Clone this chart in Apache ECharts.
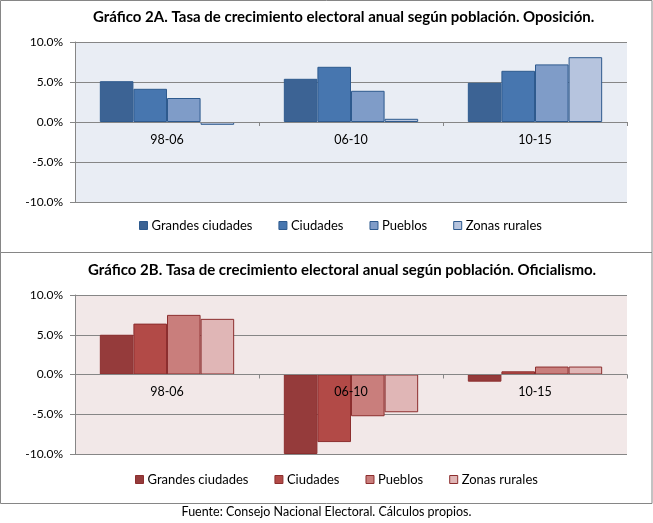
<!DOCTYPE html>
<html>
<head>
<meta charset="utf-8">
<script src="https://cdn.jsdelivr.net/npm/echarts@6/dist/echarts.min.js"></script>
<style>
html,body{margin:0;padding:0;background:#fff;}
#c{width:653px;height:523px;}
</style>
</head>
<body>
<div id="c"></div>
<script>
var categories = ['98-06', '06-10', '10-15'];
var seriesNames = ['Grandes ciudades', 'Ciudades', 'Pueblos', 'Zonas rurales'];
var yTicks = [-10, -5, 0, 5, 10];

// Gráfico 2A (Oposición)
var opGrandes = [5.1, 5.4, 4.9];
var opCiudades = [4.15, 6.9, 6.4];
var opPueblos = [3.0, 3.9, 7.2];
var opRurales = [-0.35, 0.4, 8.1];

// Gráfico 2B (Oficialismo)
var ofGrandes = [5.0, -10.0, -0.9];
var ofCiudades = [6.4, -8.5, 0.4];
var ofPueblos = [7.5, -5.25, 1.0];
var ofRurales = [7.0, -4.75, 1.0];

var titleA = 'Gráfico 2A. Tasa de crecimiento electoral anual según población. Oposición.';
var titleB = 'Gráfico 2B. Tasa de crecimiento electoral anual según población. Oficialismo.';
var footer = 'Fuente: Consejo Nacional Electoral. Cálculos propios.';

var FONT = 'Lato';
var blues = ['#3C6394', '#4776AF', '#7F9CC8', '#B6C4DE'];
var reds = ['#953B3B', '#B24A47', '#C97E7C', '#E0B6B6'];
var blueBorder = '#2E5A8E';
var redBorder = '#8C2E2E';

function makeAxes(gi, zeroOffset) {
  return {
    x: {
      type: 'category', gridIndex: gi, data: categories, position: 'bottom', offset: zeroOffset, z: 10,
      axisLine: {onZero: false, lineStyle: {color: '#868686', width: 1}},
      axisTick: {show: true, length: 4, lineStyle: {color: '#868686'}},
      axisLabel: {color: '#000', fontFamily: FONT, fontSize: 12.5, margin: 11},
      splitLine: {show: false}
    },
    y: {
      type: 'value', gridIndex: gi, min: yTicks[0], max: yTicks[yTicks.length - 1], interval: 5,
      axisLine: {show: true, lineStyle: {color: '#868686', width: 1}},
      axisTick: {show: true, length: 5, lineStyle: {color: '#868686'}},
      axisLabel: {color: '#000', fontFamily: FONT, fontSize: 12, margin: 12,
        formatter: function (v) { return v.toFixed(1) + '%'; }},
      splitLine: {show: true, lineStyle: {color: '#868686', width: 1}}
    }
  };
}
var a0 = makeAxes(0, -80), a1 = makeAxes(1, -79.5);

function mkSeries(name, data, color, border, idx) {
  return {
    type: 'bar', name: name, data: data, xAxisIndex: idx, yAxisIndex: idx,
    barGap: '0%', barCategoryGap: '27%',
    itemStyle: {color: color, borderColor: border, borderWidth: 1},
    emphasis: {disabled: true}
  };
}

var series = [
  mkSeries(seriesNames[0], opGrandes, blues[0], blueBorder, 0),
  mkSeries(seriesNames[1], opCiudades, blues[1], blueBorder, 0),
  mkSeries(seriesNames[2], opPueblos, blues[2], blueBorder, 0),
  mkSeries(seriesNames[3], opRurales, blues[3], blueBorder, 0),
  mkSeries(seriesNames[0] + ' ', ofGrandes, reds[0], redBorder, 1),
  mkSeries(seriesNames[1] + ' ', ofCiudades, reds[1], redBorder, 1),
  mkSeries(seriesNames[2] + ' ', ofPueblos, reds[2], redBorder, 1),
  mkSeries(seriesNames[3] + ' ', ofRurales, reds[3], redBorder, 1)
];

var legendCommon = {
  itemWidth: 8, itemHeight: 8, itemGap: 26, icon: 'rect',
  textStyle: {fontFamily: FONT, fontSize: 13, color: '#000', padding: [0, 0, 0, -1]},
  padding: 0
};

var chart = echarts.init(document.getElementById('c'), null, {renderer: 'canvas'});
chart.setOption({
  animation: false,
  backgroundColor: '#fff',
  title: [
    {text: titleA, left: 93, top: 10, padding: 0, textStyle: {fontFamily: FONT, fontWeight: 'bold', fontSize: 15, color: '#000'}},
    {text: titleB, left: 88, top: 263, padding: 0, textStyle: {fontFamily: FONT, fontWeight: 'bold', fontSize: 15, color: '#000'}}
  ],
  legend: [
    Object.assign({}, legendCommon, {left: 139, top: 219, data: seriesNames.map(function (n) {
      return {name: n, itemStyle: {borderColor: blueBorder, borderWidth: 1}};
    })}),
    Object.assign({}, legendCommon, {left: 135, top: 473, formatter: function (n) { return n.trim(); }, data: seriesNames.map(function (n) {
      return {name: n + ' ', itemStyle: {borderColor: redBorder, borderWidth: 1}};
    })})
  ],
  grid: [
    {left: 75, right: 26, top: 42, height: 160, show: true, backgroundColor: '#E9EDF4', borderWidth: 0},
    {left: 75, right: 26, top: 295, height: 159, show: true, backgroundColor: '#F2E8E8', borderWidth: 0}
  ],
  xAxis: [a0.x, a1.x],
  yAxis: [a0.y, a1.y],
  series: series,
  graphic: [
    {type: 'rect', shape: {x: 0.5, y: 0.5, width: 651.5, height: 252}, style: {fill: null, stroke: '#868686', lineWidth: 1}, silent: true},
    {type: 'rect', shape: {x: 0.5, y: 252.5, width: 651.5, height: 251}, style: {fill: null, stroke: '#868686', lineWidth: 1}, silent: true},
    {type: 'text', left: 'center', top: 505, style: {text: footer, fontFamily: FONT, fontSize: 12.5, fill: '#000'}, silent: true}
  ]
});
</script>
</body>
</html>
